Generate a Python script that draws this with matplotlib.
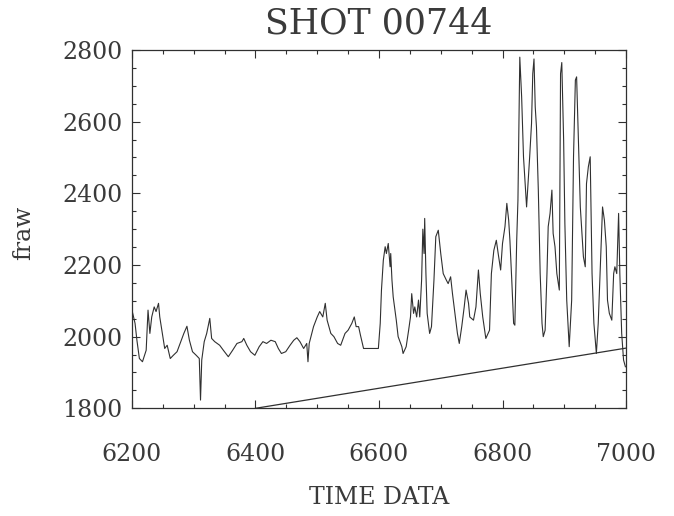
import matplotlib
matplotlib.use("Agg")
import matplotlib.pyplot as plt
from matplotlib.ticker import MultipleLocator

# ---- data ----
time_data = [
    6200, 6205, 6208, 6212, 6217, 6223, 6226, 6229, 6232, 6236, 6239, 6243, 6245, 6250,
    6253, 6257, 6262, 6267, 6273, 6280, 6284, 6289, 6293, 6298, 6304, 6309, 6311, 6313,
    6317, 6321, 6326, 6329, 6334, 6342, 6348, 6356, 6363, 6370, 6378, 6381, 6386, 6392,
    6399, 6406, 6412, 6418, 6425, 6432, 6437, 6442, 6449, 6456, 6462, 6467, 6472, 6478,
    6483, 6485, 6487, 6494, 6500, 6504, 6509, 6513, 6516, 6522, 6527, 6533, 6538, 6545,
    6550, 6556, 6560, 6563, 6567, 6570, 6575, 6580, 6588, 6599, 6602, 6604, 6607, 6610,
    6612, 6615, 6618, 6619, 6621, 6623, 6628, 6631, 6637, 6639, 6644, 6648, 6651, 6653,
    6656, 6658, 6661, 6664, 6666, 6669, 6671, 6673, 6674, 6676, 6678, 6682, 6685, 6689,
    6692, 6696, 6700, 6704, 6709, 6712, 6716, 6719, 6723, 6727, 6730, 6734, 6738, 6741,
    6745, 6747, 6753, 6757, 6761, 6764, 6768, 6773, 6779, 6782, 6786, 6790, 6793, 6797,
    6800, 6804, 6807, 6810, 6812, 6815, 6818, 6820, 6823, 6825, 6827, 6828, 6831, 6834,
    6839, 6844, 6847, 6849, 6851, 6853, 6855, 6858, 6861, 6864, 6866, 6869, 6872, 6874,
    6877, 6880, 6882, 6885, 6888, 6892, 6894, 6896, 6899, 6901, 6904, 6908, 6912, 6915,
    6918, 6920, 6923, 6926, 6928, 6931, 6934, 6936, 6939, 6942, 6945, 6948, 6952, 6955,
    6959, 6962, 6965, 6968, 6970, 6973, 6977, 6980, 6982, 6985, 6988, 6990, 6993, 6996,
    6999,
]
fraw = [
    2074, 2037, 1990, 1939, 1930, 1962, 2074, 2009, 2055, 2083, 2070, 2093, 2055, 2000,
    1967, 1976, 1939, 1948, 1958, 1990, 2009, 2029, 1990, 1958, 1948, 1939, 1823, 1935,
    1986, 2009, 2051, 1995, 1986, 1976, 1962, 1944, 1962, 1981, 1986, 1995, 1976, 1958,
    1948, 1972, 1986, 1981, 1990, 1986, 1967, 1953, 1958, 1976, 1990, 1997, 1986, 1967,
    1981, 1930, 1981, 2028, 2055, 2070, 2055, 2093, 2046, 2009, 2000, 1981, 1976, 2009,
    2018, 2037, 2055, 2028, 2028, 2004, 1967, 1967, 1967, 1967, 2037, 2130, 2213, 2251,
    2232, 2260, 2195, 2232, 2158, 2111, 2046, 2000, 1972, 1953, 1972, 2018, 2055, 2120,
    2065, 2083, 2055, 2102, 2055, 2158, 2300, 2232, 2330, 2176, 2065, 2009, 2028, 2158,
    2279, 2297, 2232, 2176, 2158, 2148, 2167, 2120, 2065, 2009, 1981, 2028, 2083, 2130,
    2093, 2055, 2046, 2083, 2186, 2120, 2055, 1995, 2018, 2176, 2241, 2269, 2232, 2186,
    2260, 2307, 2372, 2325, 2269, 2158, 2037, 2032, 2269, 2381, 2641, 2780, 2669, 2502,
    2362, 2502, 2595, 2734, 2775, 2641, 2585, 2409, 2176, 2037, 2000, 2018, 2176, 2307,
    2344, 2409, 2288, 2251, 2176, 2130, 2734, 2765, 2548, 2316, 2102, 1972, 2102, 2502,
    2716, 2725, 2548, 2362, 2307, 2223, 2195, 2427, 2474, 2502, 2176, 2037, 1953, 2037,
    2223, 2362, 2325, 2251, 2102, 2065, 2046, 2176, 2195, 2176, 2344, 2176, 2009, 1935,
    1916,
]
fit_time = [6400, 7000]
fit_value = [1800, 1968]

title_text = "SHOT 00744"
x_label = "TIME DATA"
y_label = "fraw"
x_ticks = [6200, 6400, 6600, 6800, 7000]
y_ticks = [1800, 2000, 2200, 2400, 2600, 2800]

# ---- figure ----
plt.rcParams['font.family'] = ['DejaVu Serif']
fig = plt.figure(figsize=(6.74, 5.16), dpi=100)
ax = fig.add_axes([0.1958, 0.2087, 0.7330, 0.6944])

ink = '#303030'
txt = '#3a3a3a'
ax.plot(time_data, fraw, color=ink, lw=0.8)
ax.plot(fit_time, fit_value, color=ink, lw=0.9)

ax.set_xlim(6200, 7000)
ax.set_ylim(1800, 2800)
ax.set_xticks(x_ticks)
ax.set_yticks(y_ticks)
ax.xaxis.set_minor_locator(MultipleLocator(50))
ax.yaxis.set_minor_locator(MultipleLocator(50))

ax.tick_params(which='both', direction='in', top=True, right=True, colors=ink,
               labelcolor=txt, labelsize=17, width=0.8)
ax.tick_params(axis='x', which='major', pad=25)
ax.tick_params(axis='y', which='major', pad=7)
ax.tick_params(which='major', length=6)
ax.tick_params(which='minor', length=3)
for s in ax.spines.values():
    s.set_color(ink)
    s.set_linewidth(0.9)

ax.set_title(title_text, fontsize=25, color=txt, y=1.075, pad=0, va='center')
ax.set_xlabel(x_label, fontsize=17, color=txt)
ax.xaxis.set_label_coords(0.5, -0.25)
ax.xaxis.label.set_va('center')
ax.set_ylabel(y_label, fontsize=17, color=txt)
ax.yaxis.set_label_coords(-0.22, 0.49)
ax.yaxis.label.set_va('center')

fig.savefig('out.png', dpi=100)
